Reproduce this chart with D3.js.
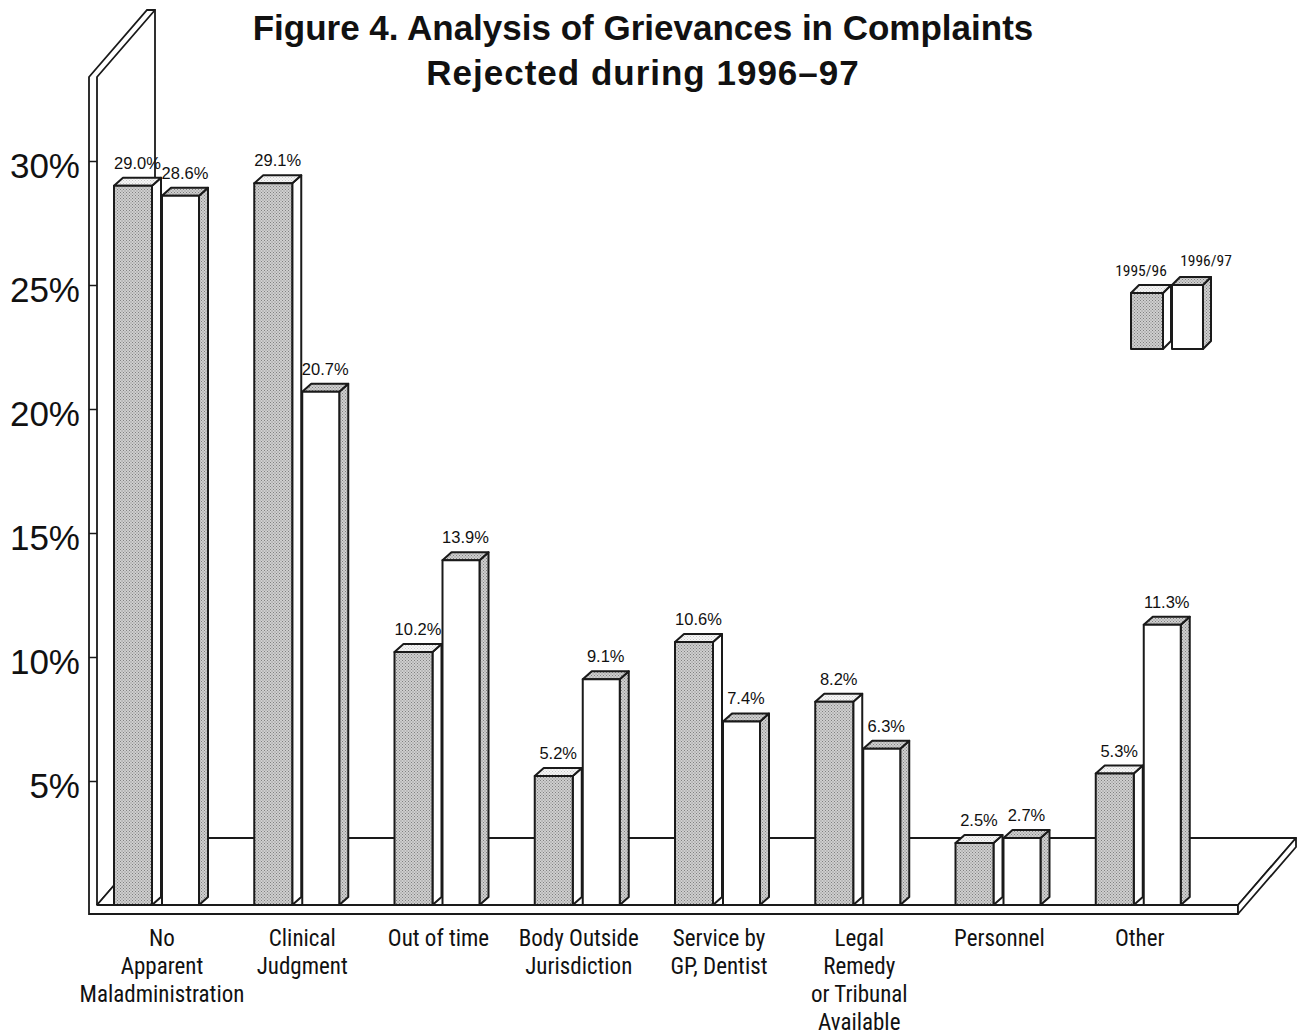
<!DOCTYPE html>
<html>
<head>
<meta charset="utf-8">
<script src="https://cdn.jsdelivr.net/npm/d3@7/dist/d3.min.js"></script>
<style>
  html, body { margin: 0; padding: 0; background: #fff; }
  svg { display: block; }
  .title { font-family: "Liberation Sans", Arial, Helvetica, sans-serif; font-weight: bold; font-size: 35px; fill: #111; }
  .ylab { font-family: "Liberation Sans", Arial, Helvetica, sans-serif; font-size: 35px; fill: #111; }
  .val { font-family: "Liberation Sans", Arial, Helvetica, sans-serif; fill: #111; }
  .cond { font-family: "Liberation Sans Narrow", "Arial Narrow", "Roboto Condensed", "Liberation Sans", sans-serif; fill: #111; }
</style>
</head>
<body>
<svg id="chart" width="1297" height="1036"></svg>
<script>
// Grievance categories (label lines separated by "|")
const categories = [
  "No|Apparent|Maladministration",
  "Clinical|Judgment",
  "Out of time",
  "Body Outside|Jurisdiction",
  "Service by|GP, Dentist",
  "Legal|Remedy|or Tribunal|Available",
  "Personnel",
  "Other"
];
const seriesNames = ["1995/96", "1996/97"];
const values9596 = [29.0, 29.1, 10.2, 5.2, 10.6, 8.2, 2.5, 5.3];
const values9697 = [28.6, 20.7, 13.9, 9.1, 7.4, 6.3, 2.7, 11.3];
const yTicks = [5, 10, 15, 20, 25, 30];

const svg = d3.select("#chart");
const ink = "#1a1a1a";

// stipple fills
const defs = svg.append("defs");
function stipple(id, base, dot) {
  const p = defs.append("pattern").attr("id", id).attr("width", 3).attr("height", 3)
    .attr("patternUnits", "userSpaceOnUse");
  p.append("rect").attr("width", 3).attr("height", 3).attr("fill", base);
  p.append("rect").attr("x", 0).attr("y", 0).attr("width", 1).attr("height", 1).attr("fill", dot);
  p.append("rect").attr("x", 1.5).attr("y", 1.5).attr("width", 1).attr("height", 1).attr("fill", dot);
}
stipple("grayDots", "#cfcfcf", "#808080");
stipple("lightDots", "#f6f6f6", "#c8c8c8");

// scales
const y = d3.scaleLinear().domain([0, 30]).range([905, 161]);
const x = d3.scaleBand().domain(categories).range([100, 1222]).paddingInner(0).paddingOuter(0);

// floor / wall geometry
const floorDx = 58, floorDy = -67;
const wallX = 89, wallT = 8, wallTop = 77, floorFront = 905, floorThick = 9, floorRight = 1238;
const barDx = 9, barDy = -8;

// --- left wall slab ---
const wall = svg.append("g").attr("fill", "none").attr("stroke", ink).attr("stroke-width", 1.8);
wall.append("path").attr("fill", "#fff").attr("d",
  `M${wallX},${floorFront + floorThick} V${wallTop} L${wallX + floorDx},${wallTop + floorDy}
   L${wallX + wallT + floorDx},${wallTop + floorDy} V${floorFront + floorDy}
   L${wallX + wallT},${floorFront} V${floorFront + floorThick} Z`);
wall.append("path").attr("d",
  `M${wallX + wallT},${floorFront} V${wallTop} L${wallX + wallT + floorDx},${wallTop + floorDy}`);

// --- floor slab ---
const floor = svg.append("g").attr("stroke", ink).attr("stroke-width", 1.8).attr("stroke-linejoin", "round");
floor.append("path").attr("fill", "#fff").attr("d",
  `M${wallX + wallT},${floorFront} L${wallX + wallT + floorDx},${floorFront + floorDy}
   H${floorRight + floorDx} L${floorRight},${floorFront} Z`);
floor.append("path").attr("fill", "#fff").attr("d",
  `M${wallX},${floorFront + floorThick} H${floorRight} V${floorFront} H${wallX + wallT}`);
floor.append("path").attr("fill", "#fff").attr("d",
  `M${floorRight},${floorFront} L${floorRight + floorDx},${floorFront + floorDy}
   v${floorThick} L${floorRight},${floorFront + floorThick} Z`);

// --- y axis ticks on the wall front ---
const axis = d3.axisLeft(y).tickValues(yTicks).tickFormat(d => d + "%").tickSize(wallT).tickPadding(9);
const ax = svg.append("g").attr("transform", `translate(${wallX + wallT},0)`).call(axis);
ax.select(".domain").remove();
ax.selectAll(".tick line").attr("stroke", ink).attr("stroke-width", 1.5);
ax.selectAll(".tick text").attr("class", "ylab").attr("font-size", null).attr("font-family", null)
  .attr("fill", null).attr("dy", "0.48em");

// --- 3D bar drawing ---
function bar3d(g, x0, w, value, front, top, side) {
  const yt = y(value), yb = y(0);
  g.append("path").attr("fill", side).attr("d",
    `M${x0 + w},${yb} L${x0 + w + barDx},${yb + barDy} V${yt + barDy} L${x0 + w},${yt} Z`);
  g.append("path").attr("fill", top).attr("d",
    `M${x0},${yt} L${x0 + barDx},${yt + barDy} H${x0 + w + barDx} L${x0 + w},${yt} Z`);
  g.append("rect").attr("fill", front).attr("x", x0).attr("y", yt).attr("width", w).attr("height", yb - yt);
}

const barsG = svg.append("g").attr("stroke", ink).attr("stroke-width", 2).attr("stroke-linejoin", "round");
const grayOff = 14, whiteOff = 62, wGray = 38, wWhite = 37;
const labelsG = svg.append("g").attr("class", "val").attr("font-size", 16.5).attr("text-anchor", "middle");

categories.forEach((c, i) => {
  const gx = x(c) + grayOff, wx = x(c) + whiteOff;
  bar3d(barsG, gx, wGray, values9596[i], "url(#grayDots)", "url(#lightDots)", "#fff");
  bar3d(barsG, wx, wWhite, values9697[i], "#fff", "url(#grayDots)", "url(#grayDots)");
  labelsG.append("text").attr("x", gx + (wGray + barDx) / 2).attr("y", y(values9596[i]) - 17)
    .text(values9596[i].toFixed(1) + "%");
  labelsG.append("text").attr("x", wx + (wWhite + barDx) / 2).attr("y", y(values9697[i]) - 17)
    .text(values9697[i].toFixed(1) + "%");
});

// --- category labels ---
const catG = svg.append("g").attr("class", "cond").attr("font-size", 23).attr("text-anchor", "middle");
categories.forEach((c, i) => {
  const cx = x(c) + 58 + (i < 2 ? 4 : 0);
  const t = catG.append("text").attr("x", cx).attr("y", 946);
  c.split("|").forEach((line, k) => {
    t.append("tspan").attr("x", cx).attr("dy", k === 0 ? 0 : 28).text(line);
  });
});

// --- legend ---
const legG = svg.append("g").attr("stroke", ink).attr("stroke-width", 2).attr("stroke-linejoin", "round");
const legBottom = 349;
const legendItems = [
  { name: seriesNames[0], x0: 1131, w: 32, yt: 293, front: "url(#grayDots)", top: "url(#lightDots)", side: "#fff", lx: 1141, ly: 276 },
  { name: seriesNames[1], x0: 1172, w: 31, yt: 285, front: "#fff", top: "url(#grayDots)", side: "url(#grayDots)", lx: 1206, ly: 266 }
];
legendItems.forEach(d => {
  legG.append("path").attr("fill", d.side).attr("d",
    `M${d.x0 + d.w},${legBottom} L${d.x0 + d.w + 8},${legBottom - 8} V${d.yt - 8} L${d.x0 + d.w},${d.yt} Z`);
  legG.append("path").attr("fill", d.top).attr("d",
    `M${d.x0},${d.yt} L${d.x0 + 8},${d.yt - 8} H${d.x0 + d.w + 8} L${d.x0 + d.w},${d.yt} Z`);
  legG.append("rect").attr("fill", d.front).attr("x", d.x0).attr("y", d.yt).attr("width", d.w).attr("height", legBottom - d.yt);
  svg.append("text").attr("class", "cond").attr("font-size", 15.5).attr("text-anchor", "middle")
    .attr("x", d.lx).attr("y", d.ly).text(d.name);
});

// --- title ---
const title = svg.append("g").attr("class", "title").attr("text-anchor", "middle");
title.append("text").attr("x", 643).attr("y", 40).text("Figure 4. Analysis of Grievances in Complaints");
title.append("text").attr("x", 643).attr("y", 85).attr("letter-spacing", 1).text("Rejected during 1996\u201397");
</script>
</body>
</html>
